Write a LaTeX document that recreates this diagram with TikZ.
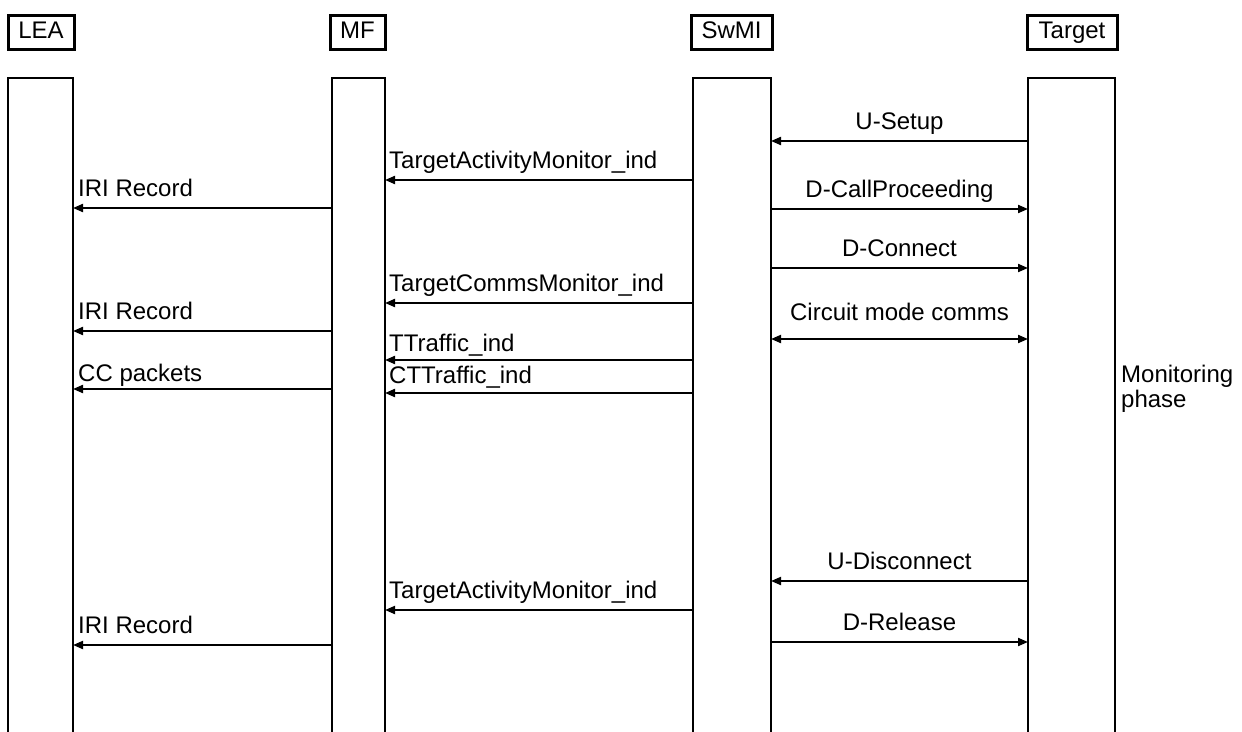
\documentclass[tikz,border=0pt]{standalone}
\usepackage{fontspec}
\setmainfont{Liberation Sans}
\usetikzlibrary{arrows.meta,calc}
\begin{document}
\begin{tikzpicture}[x=1pt,y=-1pt,
  font=\fontsize{24}{27}\selectfont,
  head/.style={draw,line width=3pt,minimum height=34pt,inner sep=0pt,outer sep=0pt,text height=17pt,text depth=5pt},
  life/.style={draw,line width=2pt,minimum height=722pt,inner sep=0pt,outer sep=0pt},
  msg/.style={line width=2pt,-{Triangle[length=10pt,width=8pt]}},
  bimsg/.style={line width=2pt,{Triangle[length=10pt,width=8pt]}-{Triangle[length=10pt,width=8pt]}},
  lbl/.style={inner sep=0pt,anchor=base},
  lbll/.style={inner sep=0pt,anchor=base west}]
\useasboundingbox (0,0) rectangle (1242,731);
% headers
\node[head,minimum width=66pt] (hlea) at (41,32) {LEA};
\node[head,minimum width=55pt] (hmf) at (357.5,32) {MF};
\node[head,minimum width=81pt] (hswmi) at (731.5,32) {SwMI};
\node[head,minimum width=90pt] (htgt) at (1072,32) {Target};
% lifelines (open at the bottom, beyond the page)
\node[life,minimum width=65pt] (lea) at (40.5,439) {};
\node[life,minimum width=53pt] (mf) at (358.5,439) {};
\node[life,minimum width=78pt] (swmi) at (732,439) {};
\node[life,minimum width=87pt] (tgt) at (1071.5,439) {};
% SwMI <-> Target
\draw[msg] (tgt.west |- 0,141) -- (swmi.east |- 0,141);
\node[lbl] (r1) at ($(swmi.east |- 0,141)!0.5!(tgt.west |- 0,141)+(0,-12)$) {U-Setup};
\draw[msg] (swmi.east |- 0,209) -- (tgt.west |- 0,209);
\node[lbl] (r2) at ($(swmi.east |- 0,209)!0.5!(tgt.west |- 0,209)+(0,-12)$) {D-CallProceeding};
\draw[msg] (swmi.east |- 0,268) -- (tgt.west |- 0,268);
\node[lbl] (r3) at ($(swmi.east |- 0,268)!0.5!(tgt.west |- 0,268)+(0,-12)$) {D-Connect};
\draw[bimsg] (swmi.east |- 0,339) -- (tgt.west |- 0,339);
\node[lbl] (r4) at ($(swmi.east |- 0,339)!0.5!(tgt.west |- 0,339)+(0,-19)$) {Circuit mode comms};
\draw[msg] (tgt.west |- 0,581) -- (swmi.east |- 0,581);
\node[lbl] (r5) at ($(swmi.east |- 0,581)!0.5!(tgt.west |- 0,581)+(0,-12)$) {U-Disconnect};
\draw[msg] (swmi.east |- 0,642) -- (tgt.west |- 0,642);
\node[lbl] (r6) at ($(swmi.east |- 0,642)!0.5!(tgt.west |- 0,642)+(0,-12)$) {D-Release};
% SwMI -> MF
\draw[msg] (swmi.west |- 0,180) -- (mf.east |- 0,180);
\node[lbll] (m1) at ($(mf.east |- 0,180)+(4,-12)$) {TargetActivityMonitor\_ind};
\draw[msg] (swmi.west |- 0,303) -- (mf.east |- 0,303);
\node[lbll] (m2) at ($(mf.east |- 0,303)+(4,-12)$) {TargetCommsMonitor\_ind};
\draw[msg] (swmi.west |- 0,360) -- (mf.east |- 0,360);
\node[lbll] (m3) at ($(mf.east |- 0,360)+(4,-9)$) {TTraffic\_ind};
\draw[msg] (swmi.west |- 0,393) -- (mf.east |- 0,393);
\node[lbll] (m4) at ($(mf.east |- 0,393)+(4,-10)$) {CTTraffic\_ind};
\draw[msg] (swmi.west |- 0,610) -- (mf.east |- 0,610);
\node[lbll] (m5) at ($(mf.east |- 0,610)+(4,-12)$) {TargetActivityMonitor\_ind};
% MF -> LEA
\draw[msg] (mf.west |- 0,208) -- (lea.east |- 0,208);
\node[lbll] (a1) at ($(lea.east |- 0,208)+(5,-12)$) {IRI Record};
\draw[msg] (mf.west |- 0,331) -- (lea.east |- 0,331);
\node[lbll] (a2) at ($(lea.east |- 0,331)+(5,-12)$) {IRI Record};
\draw[msg] (mf.west |- 0,389) -- (lea.east |- 0,389);
\node[lbll] (a3) at ($(lea.east |- 0,389)+(5,-8)$) {CC packets};
\draw[msg] (mf.west |- 0,645) -- (lea.east |- 0,645);
\node[lbll] (a4) at ($(lea.east |- 0,645)+(5,-12)$) {IRI Record};
% phase label
\node[lbll] (mp1) at (1121,382) {Monitoring};
\node[lbll] (mp2) at (1121,407) {phase};
\end{tikzpicture}
\end{document}
